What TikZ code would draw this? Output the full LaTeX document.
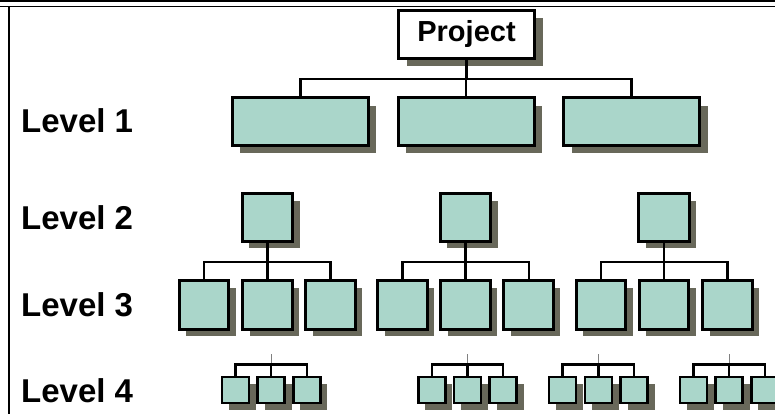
\documentclass[tikz,border=0pt]{standalone}
\usepackage{fontspec}
\setmainfont{Liberation Sans}
\usetikzlibrary{shadows,calc}
\definecolor{sage}{RGB}{170,214,202}
\definecolor{shade}{RGB}{104,104,90}
\tikzset{
  wbs/.style={draw=black,fill=sage,line width=3pt,inner sep=0pt,
    drop shadow={shadow xshift=#1,shadow yshift=-#1,fill=shade,opacity=1}},
  wbs/.default=7pt,
  top box/.style={wbs=8pt,fill=white,minimum width=136pt,minimum height=48pt,
    font=\fontsize{29}{32}\selectfont\bfseries},
  lvl1/.style={wbs=8pt,minimum width=136pt,minimum height=47.5pt},
  lvl2/.style={wbs,minimum width=50.5pt,minimum height=47.5pt},
  lvl3/.style={wbs,minimum width=49.5pt,minimum height=48.5pt},
  lvl4/.style={wbs,line width=2.6pt,minimum width=27pt,minimum height=26pt},
  link/.style={line width=2.4pt},
  stub/.style={line width=0.7pt,draw=gray},
  tag/.style={anchor=west,inner sep=0pt,font=\fontsize{33}{36}\selectfont\bfseries},
}
\begin{document}
\begin{tikzpicture}[x=1pt,y=-1pt]
  \useasboundingbox (0,0) rectangle (775,414);
  % page frame
  \draw[line width=1.4pt] (0,1) -- (775,1);
  \draw[line width=1.4pt] (0,6.5) -- (775,6.5);
  \draw[line width=2.2pt] (9,6.5) -- (9,414);

  % level names
  \node[tag] (t1) at (21,121) {Level 1};
  \node[tag] (t2) at (21,217.5) {Level 2};
  \node[tag] (t3) at (21,304.8) {Level 3};
  \node[tag] (t4) at (21,390.3) {Level 4};

  % project and level 1
  \node[top box] (proj) at (466.5,34.5) {Project};
  \node[lvl1] (p1) at (300.3,121.3) {};
  \node[lvl1] (p2) at (466.2,121.3) {};
  \node[lvl1] (p3) at (631.5,121.3) {};
  \foreach \n in {p1,p2,p3}
    \draw[link] (proj.south) -- ++(0,19.25) -| (\n.north);

  % level 2 and 3
  \foreach \g/\x in {a/267.4,b/465.5,c/664.2}{
    \node[lvl2] (\g) at (\x,217.5) {};
    \foreach \i/\dx in {1/-63.2,2/0,3/63.2}{
      \node[lvl3] (\g\i) at ({\x+\dx},304.8) {};
      \draw[link] (\g.south) -- ++(0,19.5) -| (\g\i.north);
    }
  }

  % level 4
  \foreach \g/\x in {w/271.1,x/467.5,y/598.3,z/729}{
    \coordinate (\g top) at (\x,354);
    \coordinate (\g bus) at (\x,364.3);
    \draw[stub] (\g top) -- (\g bus);
    \foreach \i/\dx in {1/-35.7,2/0,3/35.7}{
      \node[lvl4] (\g\i) at ({\x+\dx},390) {};
      \draw[link] (\g bus) -| (\g\i.north);
    }
  }
\end{tikzpicture}
\end{document}
